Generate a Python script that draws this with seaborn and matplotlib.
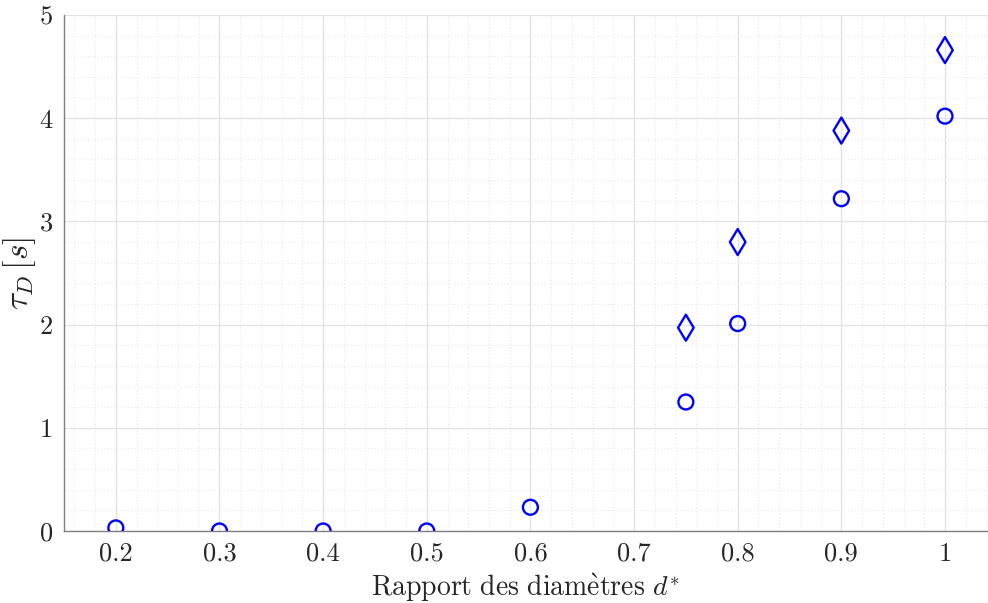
import matplotlib
matplotlib.use("Agg")
import matplotlib.pyplot as plt
import seaborn as sns
import pandas as pd
from matplotlib.ticker import MultipleLocator

# Diameter ratio and measured time constants
d_circle = [0.2, 0.3, 0.4, 0.5, 0.6, 0.75, 0.8, 0.9, 1.0]
tau_circle = [0.03, 0.0, 0.0, 0.0, 0.23, 1.25, 2.01, 3.22, 4.02]
d_diamond = [0.75, 0.8, 0.9, 1.0]
tau_diamond = [1.97, 2.80, 3.88, 4.66]

x_ticks = [0.2, 0.3, 0.4, 0.5, 0.6, 0.7, 0.8, 0.9, 1.0]
x_ticklabels = ["0.2", "0.3", "0.4", "0.5", "0.6", "0.7", "0.8", "0.9", "1"]
y_ticks = [0, 1, 2, 3, 4, 5]

sns.set_theme(style="white")
plt.rcParams["font.family"] = ["cmr10", "Liberation Serif", "DejaVu Serif"]
plt.rcParams["mathtext.fontset"] = "cm"
plt.rcParams["axes.formatter.use_mathtext"] = True

fig = plt.figure(figsize=(9.88, 6.03), dpi=100)
ax = fig.add_axes([0.0648, 0.1194, 0.9352, 0.8557])

blue = (0, 0, 1)
df_c = pd.DataFrame({"d": d_circle, "tau": tau_circle})
df_d = pd.DataFrame({"d": d_diamond, "tau": tau_diamond})
sns.scatterplot(data=df_c, x="d", y="tau", ax=ax, marker="o", s=115,
                facecolor="none", edgecolor=blue, linewidth=1.7, zorder=3)
sns.scatterplot(data=df_d, x="d", y="tau", ax=ax, marker="d", s=175,
                facecolor="none", edgecolor=blue, linewidth=1.7, zorder=3)

ax.set_xlim(0.15, 1.0415)
ax.set_ylim(0, 5)
ax.set_xticks(x_ticks)
ax.set_xticklabels(x_ticklabels)
ax.set_yticks(y_ticks)
ax.set_yticklabels([str(v) for v in y_ticks])
ax.xaxis.set_minor_locator(MultipleLocator(0.02))
ax.yaxis.set_minor_locator(MultipleLocator(0.2))

ax.grid(True, which="major", color="#e3e3e3", linewidth=1.0, linestyle="-")
ax.grid(True, which="minor", color="#e8e8e8", linewidth=0.8, linestyle=(0, (1, 2)))
ax.set_axisbelow(True)

for side in ["top", "right"]:
    ax.spines[side].set_visible(False)
for side in ["left", "bottom"]:
    ax.spines[side].set_color("#808080")
    ax.spines[side].set_linewidth(1.0)

ax.tick_params(axis="both", which="major", direction="in", length=7,
               width=0.8, color="#808080", labelsize=19, labelcolor="#262626", pad=8)
ax.tick_params(axis="both", which="minor", length=0)

ax.set_xlabel(r"$\mathrm{Rapport\ des\ diam\grave{e}tres}\ d^{*}$",
              fontsize=20, color="#262626", labelpad=4)
ax.set_ylabel(r"$\tau_D\,[s]$", fontsize=24, color="#262626", labelpad=1)

fig.savefig("out.png", dpi=100)
